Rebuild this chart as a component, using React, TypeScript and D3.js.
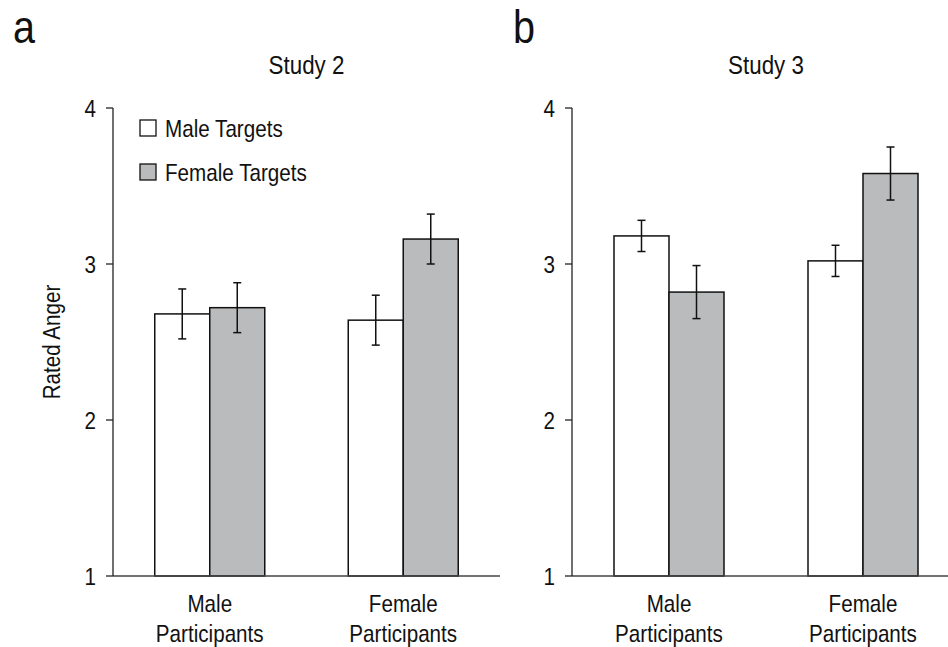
import React from 'react';
import * as d3 from 'd3';

// categories and series
const participantGroups = ['Male Participants', 'Female Participants'];
const participantLines = [['Male', 'Participants'], ['Female', 'Participants']];
const targetSeries = ['Male Targets', 'Female Targets'];
const yTicks = [1, 2, 3, 4];

// Study 2 means / error half-widths, per participant group
const study2MaleTargets = [2.68, 2.64];
const study2FemaleTargets = [2.72, 3.16];
const study2MaleTargetsErr = [0.16, 0.16];
const study2FemaleTargetsErr = [0.16, 0.16];

// Study 3
const study3MaleTargets = [3.18, 3.02];
const study3FemaleTargets = [2.82, 3.58];
const study3MaleTargetsErr = [0.1, 0.1];
const study3FemaleTargetsErr = [0.17, 0.17];

const W = 948;
const H = 647;
const FONT = "'Liberation Sans', Arial, sans-serif";
const SX = 0.86; // condensed look
const ink = '#111';
const gray = '#babbbd';
const fills = ['#ffffff', gray];

const y = d3.scaleLinear().domain([1, 4]).range([576, 108]);

// text helper: condensed by horizontal scale
function T({x, y: ty, size = 24, anchor = 'start', rotate = 0, children}) {
  return (
    <g transform={`translate(${x},${ty}) rotate(${rotate})`}>
      <text transform={`scale(${SX},1)`} fontSize={size} fontFamily={FONT}
        textAnchor={anchor} fill={ink}>{children}</text>
    </g>
  );
}

function Panel({x0, x1, title, letter, letterX, male, female, maleErr, femaleErr, legend}) {
  const xBand = d3.scaleBand().domain(participantGroups).range([x0, x1]);
  const bw = xBand.bandwidth();
  const barW = 55;
  const xSub = d3.scaleBand().domain(targetSeries)
    .range([bw / 2 - barW, bw / 2 + barW]);
  const series = [male, female];
  const errs = [maleErr, femaleErr];

  return (
    <g>
      <T x={letterX} y={43} size={46}>{letter}</T>
      <T x={(x0 + x1) / 2} y={74} size={26} anchor='middle'>{title}</T>

      {/* bars */}
      {participantGroups.map((g, gi) => targetSeries.map((s, si) => {
        const v = series[si][gi];
        const bx = xBand(g) + xSub(s);
        return (
          <rect key={g + s} x={bx} y={y(v)} width={xSub.bandwidth()}
            height={y(1) - y(v)} fill={fills[si]} stroke={ink} strokeWidth={1.5}/>
        );
      }))}

      {/* axes */}
      <line x1={x0} x2={x1} y1={y(1)} y2={y(1)} stroke='#444' strokeWidth={1.3}/>
      <line x1={x0} x2={x0} y1={y(4)} y2={y(1)} stroke='#222' strokeWidth={1.3}/>
      {yTicks.map((t) => (
        <g key={t}>
          <line x1={x0 - 7} x2={x0} y1={y(t)} y2={y(t)} stroke='#222' strokeWidth={1.3}/>
          <T x={x0 - 17} y={y(t) + 8.5} anchor='end'>{t}</T>
        </g>
      ))}

      {/* error bars */}
      {participantGroups.map((g, gi) => targetSeries.map((s, si) => {
        const v = series[si][gi];
        const e = errs[si][gi];
        const cx = xBand(g) + xSub(s) + xSub.bandwidth() / 2;
        return (
          <g key={'e' + g + s} stroke={ink} strokeWidth={1.5}>
            <line x1={cx} x2={cx} y1={y(v + e)} y2={y(v - e)}/>
            <line x1={cx - 4} x2={cx + 4} y1={y(v + e)} y2={y(v + e)}/>
            <line x1={cx - 4} x2={cx + 4} y1={y(v - e)} y2={y(v - e)}/>
          </g>
        );
      }))}

      {/* category labels */}
      {participantGroups.map((g, gi) => (
        <g key={'l' + g}>
          <T x={xBand(g) + bw / 2} y={612} anchor='middle'>{participantLines[gi][0]}</T>
          <T x={xBand(g) + bw / 2} y={642} anchor='middle'>{participantLines[gi][1]}</T>
        </g>
      ))}

      {legend && targetSeries.map((s, si) => (
        <g key={'lg' + s}>
          <rect x={140} y={120 + si * 44} width={16} height={16} fill={fills[si]}
            stroke={ink} strokeWidth={1.3}/>
          <T x={165} y={137 + si * 44}>{s}</T>
        </g>
      ))}
    </g>
  );
}

export default function App() {
  return (
    <svg width={W} height={H} style={{position: 'absolute', left: 0, top: 0, background: '#fff'}}>
      <rect width={W} height={H} fill='#fff'/>
      <T x={60} y={342} anchor='middle' rotate={-90}>Rated Anger</T>
      <Panel x0={113} x1={500} title='Study 2' letter='a' letterX={13}
        male={study2MaleTargets} female={study2FemaleTargets}
        maleErr={study2MaleTargetsErr} femaleErr={study2FemaleTargetsErr} legend/>
      <Panel x0={572} x1={960} title='Study 3' letter='b' letterX={513}
        male={study3MaleTargets} female={study3FemaleTargets}
        maleErr={study3MaleTargetsErr} femaleErr={study3FemaleTargetsErr}/>
    </svg>
  );
}
